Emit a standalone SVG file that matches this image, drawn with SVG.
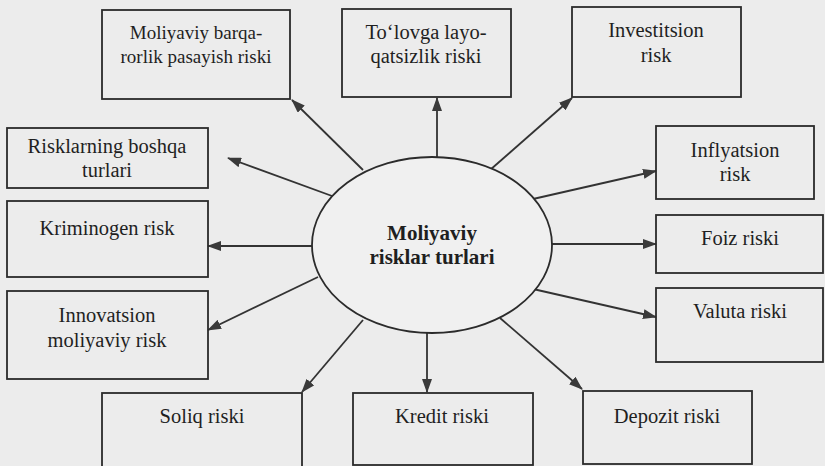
<svg xmlns="http://www.w3.org/2000/svg" width="825" height="466" viewBox="0 0 825 466">
<style>
.bg{fill:#ececec}
.box{fill:none;stroke:#2b2b2b;stroke-width:1.8}
.ell{fill:#f0f0f0;stroke:#2b2b2b;stroke-width:1.8}
.txt text{fill:#1f1f1f;text-anchor:middle;font-size:20.5px}
.txt .t{font-size:19px}
.txt .c{font-weight:bold;font-size:21px}
.con line{stroke:#333;stroke-width:1.8;marker-end:url(#ah)}
</style>
<defs>
<marker id="ah" markerUnits="userSpaceOnUse" markerWidth="14" markerHeight="10" refX="13" refY="5" orient="auto">
<path d="M0,0 L14,5 L0,10 z" fill="#3a3a3a"/>
</marker>
</defs>
<rect class="bg" x="0" y="0" width="825" height="466"/>
<g class="con">
<line x1="363" y1="170" x2="292" y2="100"/>
<line x1="343" y1="200" x2="228" y2="158"/>
<line x1="312" y1="246" x2="208" y2="246"/>
<line x1="318" y1="277" x2="208" y2="330"/>
<line x1="363" y1="320" x2="302" y2="392"/>
<line x1="427" y1="333" x2="427" y2="392"/>
<line x1="500" y1="318" x2="582" y2="389"/>
<line x1="533" y1="289" x2="656" y2="317"/>
<line x1="552" y1="244" x2="656" y2="244"/>
<line x1="533" y1="199" x2="656" y2="171"/>
<line x1="490" y1="170" x2="572" y2="98"/>
<line x1="437" y1="157" x2="437" y2="98"/>
</g>
<g class="txt" font-family="'Liberation Serif', 'Times New Roman', Tinos, 'DejaVu Serif', serif">
<g id="center">
<ellipse class="ell" cx="432" cy="245" rx="120" ry="88"/>
<text class="c" x="432" y="240">Moliyaviy</text>
<text class="c" x="432" y="264">risklar turlari</text>
</g>
<g id="barqarorlik">
<rect class="box" x="102" y="10" width="188" height="89"/>
<text class="t" x="196" y="39">Moliyaviy barqa-</text>
<text class="t" x="196" y="63">rorlik pasayish riski</text>
</g>
<g id="tolov">
<rect class="box" x="342" y="9" width="169" height="88"/>
<text x="426" y="39">To‘lovga layo-</text>
<text x="426" y="63">qatsizlik riski</text>
</g>
<g id="investitsion">
<rect class="box" x="572" y="7" width="169" height="90"/>
<text x="656" y="37">Investitsion</text>
<text x="656" y="62">risk</text>
</g>
<g id="inflyatsion">
<rect class="box" x="656" y="126" width="158" height="73"/>
<text x="735" y="157">Inflyatsion</text>
<text x="735" y="181">risk</text>
</g>
<g id="foiz">
<rect class="box" x="656" y="215" width="167" height="58"/>
<text x="740" y="245">Foiz riski</text>
</g>
<g id="valuta">
<rect class="box" x="656" y="288" width="167" height="74"/>
<text x="740" y="318">Valuta riski</text>
</g>
<g id="depozit">
<rect class="box" x="583" y="391" width="169" height="73"/>
<text x="667" y="423">Depozit riski</text>
</g>
<g id="kredit">
<rect class="box" x="353" y="393" width="180" height="72"/>
<text x="442" y="423">Kredit riski</text>
</g>
<g id="soliq">
<rect class="box" x="102" y="393" width="200" height="80"/>
<text x="202" y="423">Soliq riski</text>
</g>
<g id="innovatsion">
<rect class="box" x="7" y="291" width="201" height="88"/>
<text x="107" y="322">Innovatsion</text>
<text x="107" y="347">moliyaviy risk</text>
</g>
<g id="kriminogen">
<rect class="box" x="7" y="201" width="201" height="76"/>
<text x="107" y="235">Kriminogen risk</text>
</g>
<g id="boshqa">
<rect class="box" x="7" y="128" width="201" height="60"/>
<text x="107" y="153">Risklarning boshqa</text>
<text x="107" y="177">turlari</text>
</g>
</g>
</svg>
